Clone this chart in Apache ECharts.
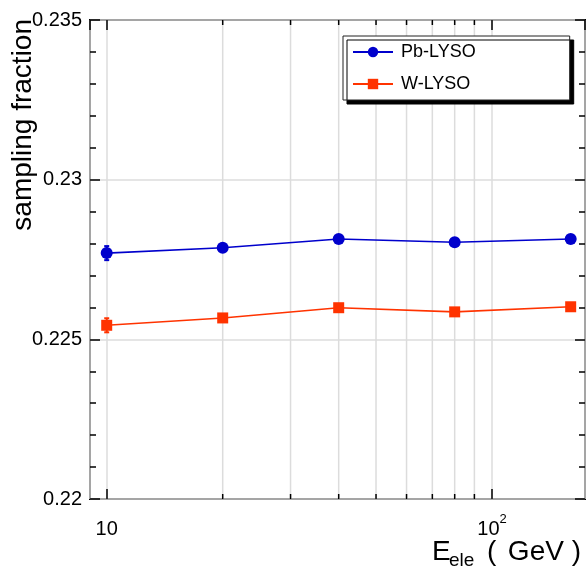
<!DOCTYPE html>
<html>
<head>
<meta charset="utf-8">
<script src="https://cdn.jsdelivr.net/npm/echarts@6/dist/echarts.min.js"></script>
<style>html,body{margin:0;padding:0;background:#fff;}#c{width:587px;height:570px;}</style>
</head>
<body>
<div id="c"></div>
<script>
// ---- data ----
const energies = [10, 20, 40, 80, 160];
const pbLyso = [0.2277, 0.22787, 0.22814, 0.22804, 0.22814];
const pbLysoErr = [0.00022, 0.00004, 0.00003, 0.00003, 0.00003];
const wLyso = [0.22544, 0.22567, 0.22599, 0.22586, 0.22602];
const wLysoErr = [0.00022, 0.00004, 0.00003, 0.00003, 0.00003];
const xRange = [9.05, 174.3];
const yRange = [0.22, 0.235];
const yTickStep = 0.005;
const minorGridX = [20, 30, 40, 50, 60, 70, 80, 90];

const FONT = '"Liberation Sans", Arial, Helvetica, sans-serif';
const BLUE = '#0000cc';
const RED = '#ff3300';

const chart = echarts.init(document.getElementById('c'), null, {renderer: 'canvas'});

function errSeries(vals, errs, color) {
  return {
    type: 'custom',
    silent: true,
    z: 2,
    data: energies.map((e, i) => [e, vals[i], errs[i]]),
    renderItem: function (params, api) {
      const x = api.value(0), y = api.value(1), e = api.value(2);
      const lo = api.coord([x, y - e]);
      const hi = api.coord([x, y + e]);
      const st = {stroke: color, lineWidth: 2};
      return {
        type: 'group',
        children: [
          {type: 'line', shape: {x1: lo[0], y1: lo[1], x2: hi[0], y2: hi[1]}, style: st},
          {type: 'line', shape: {x1: lo[0] - 2.5, y1: lo[1], x2: lo[0] + 2.5, y2: lo[1]}, style: st},
          {type: 'line', shape: {x1: hi[0] - 2.5, y1: hi[1], x2: hi[0] + 2.5, y2: hi[1]}, style: st}
        ]
      };
    }
  };
}

const option = {
  backgroundColor: '#fff',
  animation: false,
  textStyle: {fontFamily: FONT},
  grid: {left: 90, top: 20, width: 495, height: 479, show: true, borderColor: '#000', borderWidth: 2,
    backgroundColor: 'transparent', containLabel: false, outerBoundsMode: 'none'},
  legend: {
    orient: 'vertical',
    left: 343, top: 36,
    padding: [7, 94, 7, 9],
    itemWidth: 40, itemHeight: 13, itemGap: 14,
    backgroundColor: '#fff',
    borderColor: '#222', borderWidth: 1,
    shadowColor: '#000', shadowBlur: 0, shadowOffsetX: 4, shadowOffsetY: 4,
    textStyle: {fontSize: 18, color: '#000', fontFamily: FONT, padding: [0, 0, 0, 3]},
    data: ['Pb-LYSO', 'W-LYSO']
  },
  xAxis: [{
    type: 'log', logBase: 10, min: xRange[0], max: xRange[1],
    axisLine: {show: false},
    axisTick: {show: true, inside: true, length: 10, lineStyle: {color: '#000', width: 1.5}},
    minorTick: {show: false},
    splitLine: {show: true, lineStyle: {color: '#dcdcdc', width: 1.5}},
    axisLabel: {
      margin: 14, color: '#000', fontSize: 20, fontFamily: FONT,
      showMinLabel: false, showMaxLabel: false,
      formatter: function (v) {
        const p = Math.round(Math.log10(v));
        if (p === 1) return '{b|10}';
        return '{b|10}{s|' + p + '}';
      },
      rich: {
        b: {fontSize: 20, fontFamily: FONT, color: '#000', verticalAlign: 'bottom', lineHeight: 26},
        s: {fontSize: 13, fontFamily: FONT, color: '#000', verticalAlign: 'top', lineHeight: 26}
      }
    }
  }, {
    type: 'log', logBase: 10, min: xRange[0], max: xRange[1], position: 'top',
    axisLine: {show: false},
    axisTick: {show: true, inside: true, length: 10, lineStyle: {color: '#000', width: 1.5}},
    splitLine: {show: false}, axisLabel: {show: false}
  }],
  yAxis: [{
    type: 'value', min: yRange[0], max: yRange[1], interval: yTickStep,
    axisLine: {show: false},
    axisTick: {show: true, inside: true, length: 10, lineStyle: {color: '#000', width: 1.5}},
    minorTick: {show: true, splitNumber: 5, length: 6, lineStyle: {color: '#000', width: 1.5}},
    splitLine: {show: true, lineStyle: {color: '#dcdcdc', width: 1.5}},
    axisLabel: {margin: 8, color: '#000', fontSize: 20, fontFamily: FONT,
      formatter: v => String(+v.toFixed(3))}
  }, {
    type: 'value', min: yRange[0], max: yRange[1], interval: yTickStep, position: 'right',
    axisLine: {show: false},
    axisTick: {show: true, inside: true, length: 10, lineStyle: {color: '#000', width: 1.5}},
    minorTick: {show: true, splitNumber: 5, length: 6, lineStyle: {color: '#000', width: 1.5}},
    splitLine: {show: false}, axisLabel: {show: false}
  }],
  series: [
    {
      type: 'custom', silent: true, z: 1,
      data: minorGridX.map(v => [v]),
      renderItem: function (params, api) {
        const x = api.value(0);
        const b = api.coord([x, yRange[0]]);
        const t = api.coord([x, yRange[1]]);
        return {
          type: 'group',
          children: [
            {type: 'line', shape: {x1: b[0], y1: b[1], x2: t[0], y2: t[1]}, style: {stroke: '#dcdcdc', lineWidth: 1.5}},
            {type: 'line', shape: {x1: b[0], y1: b[1], x2: b[0], y2: b[1] - 5}, style: {stroke: '#000', lineWidth: 1.5}},
            {type: 'line', shape: {x1: t[0], y1: t[1], x2: t[0], y2: t[1] + 5}, style: {stroke: '#000', lineWidth: 1.5}}
          ]
        };
      }
    },
    errSeries(pbLyso, pbLysoErr, BLUE),
    errSeries(wLyso, wLysoErr, RED),
    {
      name: 'Pb-LYSO', type: 'line', z: 3,
      data: energies.map((e, i) => [e, pbLyso[i]]),
      symbol: 'circle', symbolSize: 12, showSymbol: true,
      itemStyle: {color: BLUE}, lineStyle: {color: BLUE, width: 1.6}
    },
    {
      name: 'W-LYSO', type: 'line', z: 3,
      data: energies.map((e, i) => [e, wLyso[i]]),
      symbol: 'rect', symbolSize: 11, showSymbol: true,
      itemStyle: {color: RED}, lineStyle: {color: RED, width: 1.6}
    }
  ],
  graphic: [
    {type: 'text', x: 23, y: 19, rotation: Math.PI / 2,
      style: {text: 'sampling fraction', font: '28px ' + FONT, fill: '#000', align: 'right', verticalAlign: 'middle'}},
    {type: 'text', x: 432, y: 552,
      style: {text: 'E', font: '28px ' + FONT, fill: '#000', align: 'left', verticalAlign: 'middle'}},
    {type: 'text', x: 449, y: 561,
      style: {text: 'ele', font: '19px ' + FONT, fill: '#000', align: 'left', verticalAlign: 'middle'}},
    {type: 'text', x: 487, y: 552,
      style: {text: '(', font: '28px ' + FONT, fill: '#000', align: 'left', verticalAlign: 'middle'}},
    {type: 'text', x: 581, y: 552,
      style: {text: 'GeV )', font: '28px ' + FONT, fill: '#000', align: 'right', verticalAlign: 'middle'}}
  ]
};
chart.setOption(option);
</script>
</body>
</html>
